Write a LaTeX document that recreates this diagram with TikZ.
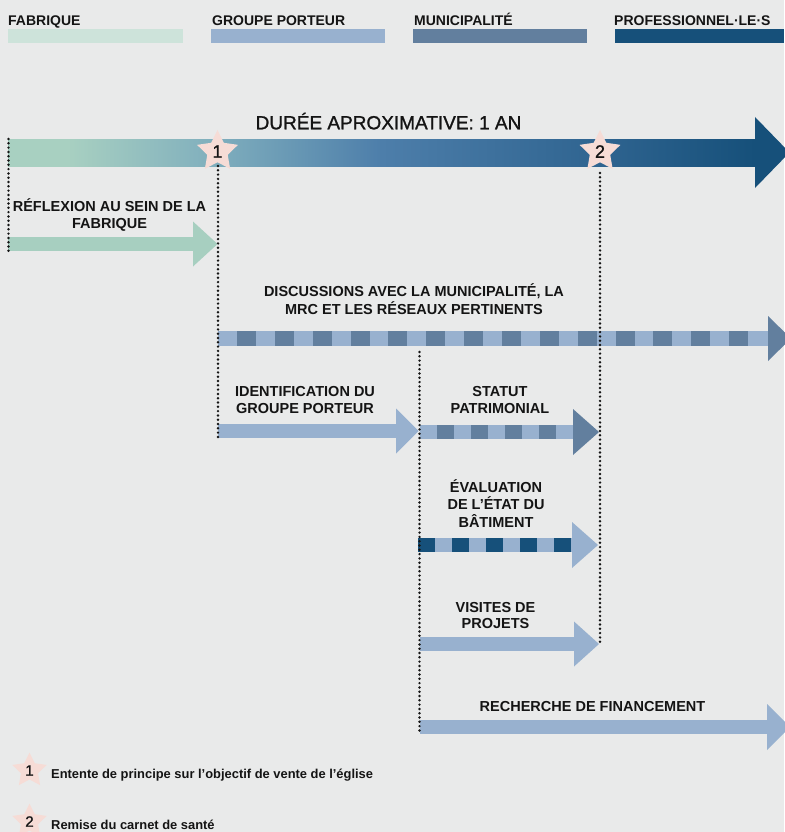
\documentclass[tikz,border=0pt]{standalone}
\usepackage{fontspec}
\setmainfont{Liberation Sans}
\newfontfamily\medfont[FakeBold=1.2]{Liberation Sans}
\usetikzlibrary{shapes.geometric}
\definecolor{bg}{HTML}{E9EAEA}
\definecolor{fabl}{HTML}{CDE3DA}
\definecolor{fab}{HTML}{A7CFC0}
\definecolor{grp}{HTML}{98B1CF}
\definecolor{mun}{HTML}{627F9E}
\definecolor{pro}{HTML}{16507A}
\definecolor{starc}{HTML}{F6DCD6}
\definecolor{ink}{HTML}{141414}
\definecolor{tA}{HTML}{A8D0C1}
\definecolor{tB}{HTML}{7FAEBD}
\definecolor{tC}{HTML}{4D7EAA}
\definecolor{tD}{HTML}{2F6490}
\pgfdeclarehorizontalshading{timeline}{100bp}{color(0bp)=(tA); color(25bp)=(tA); color(29bp)=(tA); color(39bp)=(tB); color(50bp)=(tC); color(64.6bp)=(tD); color(75bp)=(pro); color(100bp)=(pro)}
\begin{document}
\begin{tikzpicture}[x=1pt,y=-1pt,
  lbl/.style={font=\fontsize{14.5}{17.5}\selectfont\bfseries, text=ink, inner sep=0pt, anchor=base},
  leg/.style={font=\fontsize{14}{16}\selectfont\bfseries, text=ink, inner sep=0pt, anchor=base west},
  legtext/.style={font=\fontsize{12.9}{15}\selectfont\bfseries, text=ink, inner sep=0pt, anchor=base west},
  dotline/.style={line width=2.7pt, line cap=round, dash pattern=on 0pt off 4.3pt, draw=ink},
  mstar/.style={star, star points=5, star point ratio=2, fill=starc, inner sep=0pt, minimum size=43pt, font=\fontsize{18}{18}\selectfont\medfont, text=ink},
  kstar/.style={mstar, minimum size=36pt, font=\fontsize{15}{15}\selectfont\medfont}
]
\useasboundingbox (0,0) rectangle (784,832);
\fill[bg] (0,0) rectangle (784,832);

% legend
\node[leg] (lgA) at (8,26) {FABRIQUE};
\node[leg] (lgB) at (212,26) {GROUPE PORTEUR};
\node[leg] (lgC) at (414,26) {MUNICIPALITÉ};
\node[leg] (lgD) at (614,26) {PROFESSIONNEL·LE·S};
\fill[fabl] (8,29) rectangle (183,43);
\fill[grp] (210.5,29) rectangle (385,43);
\fill[mun] (412.5,29) rectangle (587,43);
\fill[pro] (614.5,29) rectangle (784,43);

% main timeline
\shade[shading=timeline] (8,139) rectangle (755,166);
\fill[pro] (755,117) -- (789.5,152.5) -- (755,188) -- cycle;
\node[font=\fontsize{19}{19}\selectfont\medfont, text=ink, inner sep=0pt, anchor=base] (title) at (388.5,129.3) {DURÉE APROXIMATIVE: 1 AN};

% Reflexion
\fill[fab] (8,237) rectangle (193,251);
\fill[fab] (193,221.5) -- (217.5,244) -- (193,266.5) -- cycle;
\node[lbl] (r1) at (109.5,211) {RÉFLEXION AU SEIN DE LA};
\node[lbl] (r2) at (109.5,228.5) {FABRIQUE};

% Discussions
\fill[grp] (218,331) rectangle (768,346);
\foreach \i in {0,...,13} \fill[mun] ({237+37.85*\i},331) rectangle ++(19,15);
\fill[mun] (768,316) -- (791,338.5) -- (768,361) -- cycle;
\node[lbl] (di1) at (414,296.5) {DISCUSSIONS AVEC LA MUNICIPALITÉ, LA};
\node[lbl] (di2) at (414,314) {MRC ET LES RÉSEAUX PERTINENTS};

% Identification
\fill[grp] (218,424) rectangle (396,438);
\fill[grp] (396,408.5) -- (418.5,431) -- (396,453.5) -- cycle;
\node[lbl] (id1) at (305,396) {IDENTIFICATION DU};
\node[lbl] (id2) at (305,413.5) {GROUPE PORTEUR};

% Statut
\fill[grp] (420,425) rectangle (573,439);
\foreach \i in {0,...,3} \fill[mun] ({437+34*\i},425) rectangle ++(17,14);
\fill[mun] (573,409) -- (599,432) -- (573,455) -- cycle;
\node[lbl] (st1) at (500,396) {STATUT};
\node[lbl] (st2) at (500,413.5) {PATRIMONIAL};

% Evaluation
\fill[grp] (418,538) rectangle (572,552);
\foreach \i in {0,...,4} \fill[pro] ({418+34*\i},538) rectangle ++(17,14);
\fill[grp] (572,522) -- (598,545) -- (572,568) -- cycle;
\node[lbl] (ev1) at (496,492) {ÉVALUATION};
\node[lbl] (ev2) at (496,509.5) {DE L’ÉTAT DU};
\node[lbl] (ev3) at (496,527) {BÂTIMENT};

% Visites
\fill[grp] (420,637) rectangle (574,651);
\fill[grp] (574,621.5) -- (599,644) -- (574,666.5) -- cycle;
\node[lbl] (vi1) at (495.5,612) {VISITES DE};
\node[lbl] (vi2) at (495.5,628) {PROJETS};

% Recherche
\fill[grp] (420,720) rectangle (767,734);
\fill[grp] (767,704) -- (790,727) -- (767,750) -- cycle;
\node[lbl] (re1) at (592.5,711) {RECHERCHE DE FINANCEMENT};

% dotted lines
\coordinate (d0a) at (8.5,139);  \coordinate (d0b) at (8.5,251);
\coordinate (d1a) at (218,166);  \coordinate (d1b) at (218,438);
\coordinate (d2a) at (600,173);  \coordinate (d2b) at (600,643);
\coordinate (d3a) at (419.5,352); \coordinate (d3b) at (419.5,734);
\draw[dotline] (d0a) -- (d0b);
\draw[dotline] (d1a) -- (d1b);
\draw[dotline] (d2a) -- (d2b);
\draw[dotline] (d3a) -- (d3b);

% stars
\node[mstar] (s1) at (217.5,151.5) {1};
\node[mstar] (s2) at (600,151.5) {2};

% bottom legend
\node[kstar] (k1) at (29.5,770.5) {1};
\node[legtext] (t1) at (51,778) {Entente de principe sur l’objectif de vente de l’église};
\node[kstar] (k2) at (29.5,821.5) {2};
\node[legtext] (t2) at (51,829.5) {Remise du carnet de santé};
\end{tikzpicture}
\end{document}
